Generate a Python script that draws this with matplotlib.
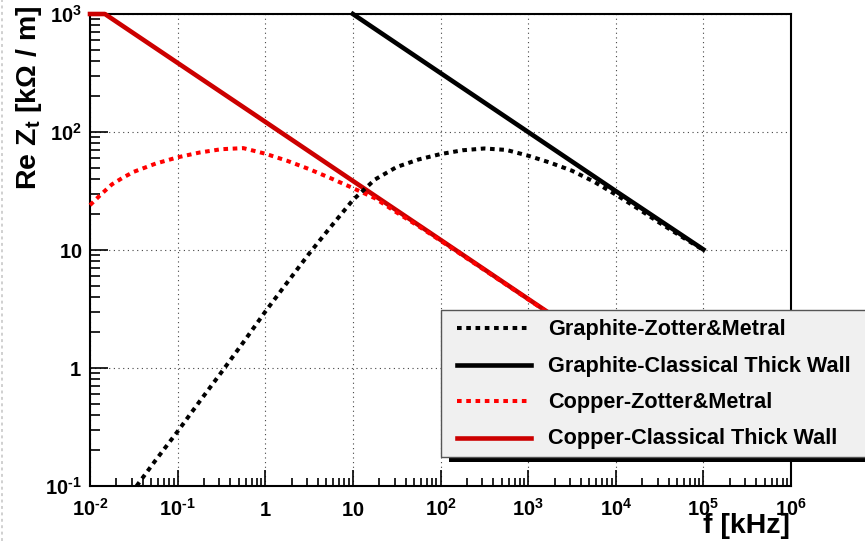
import matplotlib
matplotlib.use("Agg")
import matplotlib.pyplot as plt
from matplotlib.lines import Line2D
from matplotlib.patches import Rectangle
from matplotlib.ticker import FixedLocator, LogLocator, NullFormatter

plt.rcParams['font.family'] = ['Liberation Sans', 'DejaVu Sans']
plt.rcParams['font.weight'] = 'bold'
plt.rcParams['mathtext.fontset'] = 'custom'
plt.rcParams['mathtext.rm'] = 'Liberation Sans:bold'
plt.rcParams['mathtext.it'] = 'Liberation Sans:bold'
plt.rcParams['mathtext.bf'] = 'Liberation Sans:bold'
plt.rcParams['mathtext.default'] = 'rm'

# --- data (f in kHz, Re Zt in kOhm/m) ---
f_gr_zm = [0.034, 0.056, 0.1, 0.178, 0.316, 0.562, 1.0, 1.78, 3.16, 5.62, 10, 17.8,
           31.6, 56.2, 100, 178, 316, 562, 1000, 1780, 3160, 5620, 1e4, 1.78e4,
           3.16e4, 5.62e4, 1e5]
z_gr_zm = [0.1, 0.165, 0.29, 0.52, 0.92, 1.65, 3.0, 5.3, 9.3, 15.8, 26.5, 39.5,
           50.5, 58.5, 65, 70, 72.5, 70.5, 63, 55, 47, 38, 29.5, 22.5,
           17.0, 13.0, 10.0]

f_gr_thick = [10, 100, 1000, 1e4, 1e5]
z_gr_thick = [1000, 316, 100, 31.6, 10.1]

f_cu_zm = [0.01, 0.0133, 0.0178, 0.0237, 0.0316, 0.0562, 0.1, 0.178, 0.316, 0.562,
           1.0, 1.78, 3.16, 5.62, 10, 17.8, 31.6, 56.2, 100, 1000, 1e4, 1e5]
z_cu_zm = [24, 29.5, 36, 41, 46, 54, 61, 67, 71.5, 73,
           65.5, 57, 48.5, 40.5, 33.5, 27.5, 20.8, 15.9, 12.0, 3.82, 1.21, 0.384]

f_cu_thick = [0.01, 0.0148, 0.1, 1, 10, 100, 1000, 1e4, 1e5]
z_cu_thick = [1000, 1000, 385, 122, 38.5, 12.2, 3.85, 1.22, 0.385]

labels = ['Graphite-Zotter&Metral', 'Graphite-Classical Thick Wall',
          'Copper-Zotter&Metral', 'Copper-Classical Thick Wall']
colors = ['black', 'black', '#ff0000', '#cc0000']
dotted = [True, False, True, False]

x_ticks = [1e-2, 1e-1, 1, 10, 1e2, 1e3, 1e4, 1e5, 1e6]
x_ticklabels = [r'$10^{\text{-}2}$', r'$10^{\text{-}1}$', '$1$', '$10$', '$10^{2}$',
                '$10^{3}$', '$10^{4}$', '$10^{5}$', '$10^{6}$']
y_ticks = [0.1, 1, 10, 100, 1000]
y_ticklabels = [r'$10^{\text{-}1}$', '$1$', '$10$', '$10^{2}$', '$10^{3}$']

W, H = 865, 541


def fx(x):
    return x / W


def fy(y):
    return 1 - y / H


def style(dot):
    if dot:
        return dict(lw=2.9, dashes=(1.15, 1.15), dash_capstyle='butt')
    return dict(lw=3.3, ls='-')


fig = plt.figure(figsize=(W / 100, H / 100), dpi=100)
ax = fig.add_axes([fx(90), fy(486), fx(791) - fx(90), fy(14) - fy(486)])
ax.set_xscale('log')
ax.set_yscale('log')

series = [(f_gr_zm, z_gr_zm), (f_gr_thick, z_gr_thick),
          (f_cu_zm, z_cu_zm), (f_cu_thick, z_cu_thick)]
for i in [3, 2, 1, 0]:
    fs, zs = series[i]
    ax.plot(fs, zs, color=colors[i], clip_on=False, zorder=3, **style(dotted[i]))

ax.set_xlim(1e-2, 1e6)
ax.set_ylim(0.1, 1000)

ax.xaxis.set_major_locator(FixedLocator(x_ticks))
ax.set_xticklabels(x_ticklabels)
ax.yaxis.set_major_locator(FixedLocator(y_ticks))
ax.set_yticklabels(y_ticklabels)
ax.xaxis.set_minor_locator(LogLocator(base=10, subs=range(2, 10), numticks=20))
ax.yaxis.set_minor_locator(LogLocator(base=10, subs=range(2, 10), numticks=20))
ax.xaxis.set_minor_formatter(NullFormatter())
ax.yaxis.set_minor_formatter(NullFormatter())

ax.tick_params(axis='x', which='major', direction='in', length=11.5, width=1.2,
               labelsize=14.5, pad=21.6)
ax.tick_params(axis='x', which='minor', direction='in', length=5.8, width=1.2)
ax.tick_params(axis='y', which='major', direction='in', length=13, width=1.2,
               labelsize=14.5, pad=5.8)
ax.tick_params(axis='y', which='minor', direction='in', length=7.2, width=1.2)
for t in ax.get_xticklabels():
    t.set_va('baseline')

for s in ax.spines.values():
    s.set_linewidth(1.5)
ax.grid(True, which='major', color='#444444', lw=0.8, ls=(0, (1, 3.2)))
ax.set_axisbelow(True)

fig.text(fx(36), fy(190), 'Re Z$_{t}$ [kΩ / m]', rotation=90,
         rotation_mode='anchor', ha='left', va='baseline', fontsize=20.5)
fig.text(fx(790), fy(533), 'f [kHz]', ha='right', va='baseline', fontsize=20.5)

# page edge dashes on the far left
fig.add_artist(Line2D([fx(1.5), fx(1.5)], [0, 1], color='#d0d0d0', lw=1.4,
                      dashes=(1.5, 1.8)))

# legend box with shadow
fig.add_artist(Rectangle((fx(449), fy(462)), fx(880) - fx(449), fy(318) - fy(462),
                         facecolor='black', edgecolor='none', zorder=4))
fig.add_artist(Rectangle((fx(441), fy(457)), fx(875) - fx(441), fy(310) - fy(457),
                         facecolor='#f0f0f0', edgecolor='#555555', lw=1, zorder=5))
row_line = [327.5, 364.5, 400.5, 437.5]
row_base = [335, 372, 408, 444]
for i in range(4):
    fig.add_artist(Line2D([fx(457), fx(531)], [fy(row_line[i])] * 2, color=colors[i],
                          zorder=6, **style(dotted[i])))
    fig.text(fx(548), fy(row_base[i]), labels[i], ha='left', va='baseline',
             fontsize=15.6, zorder=6)

fig.savefig('out.png', dpi=100)
